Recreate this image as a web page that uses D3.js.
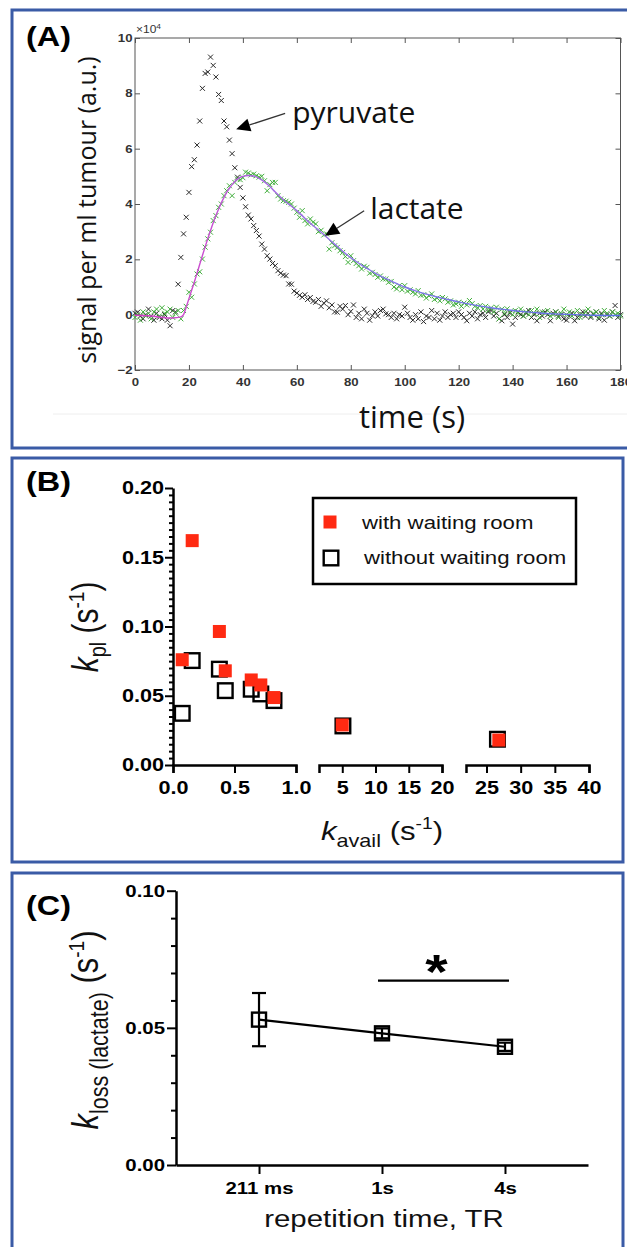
<!DOCTYPE html>
<html><head><meta charset="utf-8">
<script src="https://cdn.jsdelivr.net/npm/d3@7"></script>
<style>body{margin:0;background:#fff} svg{display:block}</style>
</head><body>
<svg id="c" width="627" height="1247"></svg>
<script>
// ---------------- DATA ----------------
// Panel A: sampling times (s) and signals (x10^4 a.u.)
const timeSec = d3.range(0, 181, 1);
const pyruvateSignal = [
 0.05,0.09,-0.05,-0.15,0.0,0.2,-0.05,-0.2,0.05,-0.1,
 -0.15,0.0,-0.2,-0.4,0.15,0.1,1.1,2.07,2.92,3.52,
 4.42,5.35,5.6,6.13,7.0,8.18,8.72,8.77,9.31,9.01,
 8.59,7.96,7.74,7.0,6.79,6.31,5.82,5.31,4.97,4.6,
 4.22,3.9,3.6,3.46,3.22,3.04,2.84,2.55,2.37,2.13,
 2.01,1.85,1.77,1.59,1.5,1.43,1.41,1.11,1.1,0.85,
 0.78,0.7,0.63,0.72,0.55,0.62,0.48,0.45,0.55,0.3,
 0.42,0.5,0.25,0.35,0.1,0.09,0.3,0.2,0.33,0.0,
 0.12,0.35,-0.1,0.05,-0.15,0.2,0.05,-0.2,-0.04,0.1,
 -0.05,0.15,0.2,0.03,0.0,-0.1,0.05,-0.15,0.0,-0.05,
 0.27,0.05,-0.1,-0.2,0.0,-0.15,0.1,-0.25,-0.05,-0.1,
 0.15,-0.15,0.05,-0.2,-0.05,0.1,-0.1,0.0,0.05,-0.1,
 0.1,0.0,-0.1,-0.22,0.05,-0.05,0.1,-0.15,0.0,0.05,
 -0.1,0.1,0.15,-0.05,0.05,-0.15,-0.22,0.0,-0.1,0.05,
 -0.34,-0.1,0.1,0.0,-0.05,0.05,0.15,-0.1,0.0,-0.22,
 0.05,-0.05,0.1,0.0,-0.22,0.05,0.1,-0.05,0.0,-0.15,
 -0.2,-0.05,0.05,-0.22,-0.1,0.0,0.1,-0.05,0.05,-0.1,
 0.0,0.1,-0.15,0.05,-0.2,0.0,-0.05,0.1,0.33,-0.1,0.0
];
const lactateSignal = [
 -0.1,0.0,-0.2,0.1,-0.05,0.05,-0.15,0.1,0.2,-0.05,
 0.25,0.05,0.1,0.2,-0.1,0.05,0.15,-0.15,0.15,0.3,
 0.81,0.63,1.11,1.47,1.55,2.01,2.44,2.74,2.98,3.4,
 3.58,3.88,4.0,4.3,4.48,4.66,4.3,4.78,4.9,4.88,
 4.95,5.15,5.12,5.05,5.08,5.02,4.97,5.0,4.84,4.48,
 4.7,4.78,4.78,4.3,4.18,4.12,4.1,4.06,4.0,3.85,
 3.7,3.52,3.76,3.4,3.28,3.46,3.34,3.28,3.0,3.05,
 2.88,2.92,2.37,2.6,2.49,2.43,2.31,2.25,2.1,1.89,
 2.13,1.95,1.85,1.77,1.65,1.75,1.71,1.5,1.53,1.45,
 1.35,1.4,1.29,1.29,1.17,1.2,1.0,0.93,1.05,0.9,
 1.05,0.85,0.9,0.81,0.75,0.87,0.7,0.72,0.6,0.68,
 0.75,0.55,0.6,0.5,0.62,0.57,0.45,0.5,0.35,0.39,
 0.45,0.3,0.42,0.35,0.51,0.4,0.3,0.25,0.33,0.2,
 0.3,0.15,0.25,0.1,0.27,-0.15,0.2,0.05,0.21,0.1,
 0.0,0.15,0.05,0.2,-0.05,0.1,0.0,0.15,0.05,0.2,
 -0.1,0.1,0.05,0.15,-0.05,0.0,0.1,-0.1,0.05,0.2,
 0.0,0.1,-0.05,0.05,0.15,-0.1,0.0,0.1,0.2,-0.05,
 0.05,0.1,-0.1,0.0,0.15,0.05,-0.05,0.1,0.0,0.05,-0.05
];
const fitTime = [0,6,10,14,17,18,19,20,21,22,23,24,25,26,27,28,29,30,31,32,33,34,35,36,37,38,39,40,42,44,46,48,50,52,54,56,58,60,62,64,66,68,70,72,74,76,78,80,82,84,86,88,90,92,94,96,98,100,104,108,112,116,120,124,128,132,136,140,145,150,155,160,170,180];
const fitLactate = [-0.02,-0.05,-0.1,-0.12,-0.08,0.0,0.28,0.58,0.88,1.18,1.5,1.82,2.14,2.45,2.75,3.04,3.32,3.58,3.82,4.04,4.24,4.42,4.57,4.7,4.81,4.9,4.96,5.0,5.03,5.01,4.93,4.8,4.63,4.43,4.24,4.07,3.92,3.76,3.58,3.39,3.22,3.06,2.9,2.72,2.55,2.38,2.21,2.06,1.92,1.79,1.67,1.56,1.45,1.35,1.26,1.17,1.08,1.0,0.86,0.74,0.64,0.55,0.46,0.38,0.31,0.25,0.2,0.15,0.1,0.06,0.03,0.01,-0.02,-0.03];
const timeTicks = [0,20,40,60,80,100,120,140,160,180];
const signalTicks = [-2,0,2,4,6,8,10];

// Panel B
const kavailWith    = [0.075,0.156,0.377,0.425,0.636,0.714,0.821,5.0,26.8];
const kplWith       = [0.076,0.162,0.0964,0.068,0.0614,0.0578,0.0487,0.0289,0.018];
const kavailWithout = [0.075,0.156,0.377,0.425,0.636,0.714,0.821,5.1,26.6];
const kplWithout    = [0.0373,0.0754,0.0692,0.0537,0.0547,0.0513,0.0465,0.0282,0.0186];
const kavailSegments = [[0,1],[1.5,20],[22,40]];
const kavailTicks = [[0,0.5,1.0],[5,10,15,20],[25,30,35,40]];
const kplTicks = [0,0.05,0.10,0.15,0.20];
const legendLabels = ["with waiting room","without waiting room"];

// Panel C
const trLabels = ["211 ms","1s","4s"];
const klossMean = [0.0530,0.0480,0.0431];
const klossErr  = [0.0097,0.0018,0.0015];
const klossTicks = [0,0.05,0.10];

// ---------------- DRAW ----------------
const svg = d3.select('#c');
const SX = 1.2;
const SANS = "'Liberation Sans', Arial, sans-serif";
const OPEN = "'Open Sans', sans-serif";
const BLUE = '#3a5ba6';

// panel frames
[[12,10,640,438],[12,458,611,404],[12,873,611,420]].forEach(r=>{
  svg.append('rect').attr('x',r[0]).attr('y',r[1]).attr('width',r[2]).attr('height',r[3])
    .attr('fill','none').attr('stroke',BLUE).attr('stroke-width',3);
});

function rich(parent, x, y, parts, opts){
  const g = parent.append('g').attr('transform', `translate(${x},${y}) ${opts.tf||''}`);
  const t = g.append('text').attr('text-anchor', opts.anchor||'middle')
    .attr('font-family', opts.family||SANS).attr('fill', opts.fill||'#000')
    .attr('font-weight', opts.weight||'normal');
  let prev = 0;
  parts.forEach(p=>{
    const s = p.shift||0;
    t.append('tspan').text(p.t).attr('font-size', p.size)
      .attr('font-style', p.italic?'italic':'normal').attr('dy', s-prev);
    prev = s;
  });
  return t;
}

// ===== Panel A =====
const xA = d3.scaleLinear().domain([0,180]).range([135,620.5]);
const yA = d3.scaleLinear().domain([-2,10]).range([370,38]);
const gA = svg.append('g');

gA.append('line').attr('x1',53).attr('x2',627).attr('y1',414).attr('y2',414)
  .attr('stroke','#eeeeee').attr('stroke-width',1);

function styleA(g){
  g.select('.domain').remove();
  g.selectAll('line').attr('stroke','#555').attr('stroke-width',1);
  g.selectAll('text').attr('font-family',SANS).attr('font-size',11).attr('font-weight','bold')
    .attr('fill','#333').attr('transform',`scale(${SX},1)`);
}
gA.append('g').attr('transform','translate(0,370)')
  .call(d3.axisBottom(xA).tickValues(timeTicks).tickSize(-5).tickPadding(8)).call(styleA);
gA.append('g').attr('transform','translate(0,38)')
  .call(d3.axisTop(xA).tickValues(timeTicks).tickSize(-5).tickFormat('')).call(styleA);
gA.append('g').attr('transform','translate(135,0)')
  .call(d3.axisLeft(yA).tickValues(signalTicks).tickSize(-5).tickPadding(3)).call(styleA)
  .selectAll('text').attr('x', -2.5/SX);
gA.append('g').attr('transform','translate(620.5,0)')
  .call(d3.axisRight(yA).tickValues(signalTicks).tickSize(-5).tickFormat('')).call(styleA);
gA.append('rect').attr('x',xA(0)).attr('y',yA(10)).attr('width',xA(180)-xA(0)).attr('height',yA(-2)-yA(10))
  .attr('fill','none').attr('stroke','#555').attr('stroke-width',1);

// x10^4
rich(gA, xA(0)+1, yA(10)-5, [{t:'×10',size:10},{t:'4',size:7,shift:-4}], {anchor:'start', fill:'#333', tf:`scale(${SX},1)`});

const xm = (x,y,s)=>`M${x-s},${y-s}L${x+s},${y+s}M${x-s},${y+s}L${x+s},${y-s}`;
gA.append('g').selectAll('path').data(pyruvateSignal).join('path')
  .attr('d',(d,i)=>xm(xA(timeSec[i]),yA(d),2.5)).attr('stroke','#2a2a2a').attr('stroke-width',1).attr('fill','none');
gA.append('g').selectAll('path').data(lactateSignal).join('path')
  .attr('d',(d,i)=>xm(xA(timeSec[i]),yA(d),2.5)).attr('stroke','#3fae3a').attr('stroke-width',1).attr('fill','none');

const defs = svg.append('defs');
const grad = defs.append('linearGradient').attr('id','fitg').attr('gradientUnits','userSpaceOnUse')
  .attr('x1',xA(0)).attr('x2',xA(180)).attr('y1',0).attr('y2',0);
[[0,'#d63cc8'],[0.15,'#c84fd0'],[0.25,'#a868e0'],[0.5,'#8a78ec'],[1,'#5a70e8']].forEach(s=>
  grad.append('stop').attr('offset',s[0]).attr('stop-color',s[1]));
gA.append('path').datum(fitTime.map((t,i)=>[t,fitLactate[i]]))
  .attr('d', d3.line().x(d=>xA(d[0])).y(d=>yA(d[1])).curve(d3.curveMonotoneX))
  .attr('fill','none').attr('stroke','url(#fitg)').attr('stroke-width',1.4);

function arrow(g, tipX, tipY, dx, dy){
  const L = Math.hypot(dx,dy), ux = dx/L, uy = dy/L;
  const hl = 14, hw = 6.5;
  const bx = tipX+ux*hl, by = tipY+uy*hl;
  g.append('line').attr('x1',tipX+dx).attr('y1',tipY+dy).attr('x2',bx).attr('y2',by)
    .attr('stroke','#333').attr('stroke-width',1.3);
  g.append('path').attr('d',`M${tipX},${tipY}L${bx-uy*hw},${by+ux*hw}L${bx+uy*hw},${by-ux*hw}Z`).attr('fill','#000');
}
const pyTip = [xA(37.5), yA(6.7)];
arrow(gA, pyTip[0], pyTip[1], 49, -16);
gA.append('text').attr('x',pyTip[0]+56).attr('y',pyTip[1]-6).text('pyruvate')
  .attr('font-family',OPEN).attr('font-size',30).attr('fill','#111');
const laTip = [xA(70.5), yA(2.85)];
arrow(gA, laTip[0], laTip[1], 39, -25);
gA.append('text').attr('x',laTip[0]+45).attr('y',laTip[1]-17).text('lactate')
  .attr('font-family',OPEN).attr('font-size',30).attr('fill','#111');

gA.append('text').attr('x',412).attr('y',428).attr('text-anchor','middle').text('time (s)')
  .attr('font-family',OPEN).attr('font-size',31).attr('fill','#111');
gA.append('text').attr('transform',`translate(96,${(yA(10)+yA(-2))/2+6}) rotate(-90)`).attr('text-anchor','middle')
  .text('signal per ml tumour (a.u.)').attr('font-family',OPEN).attr('font-size',25).attr('fill','#111');

function panelLabel(txt, y){
  svg.append('text').attr('transform',`translate(26,${y}) scale(${SX},1)`).text(txt)
    .attr('font-family',SANS).attr('font-weight','bold').attr('font-size',27).attr('fill','#000');
}
panelLabel('(A)',46); panelLabel('(B)',491); panelLabel('(C)',915);

// ===== Panel B =====
const gB = svg.append('g');
const yB = d3.scaleLinear().domain([0,0.2]).range([765,488]);
const segRanges = [[173,296],[319,442],[466,589]];
const segScales = kavailSegments.map((d,i)=>d3.scaleLinear().domain(d).range(segRanges[i]));
function xB(v){
  for(let i=0;i<kavailSegments.length;i++){
    const [a,b] = kavailSegments[i];
    if(v<=b || i===kavailSegments.length-1) return segScales[i](v);
  }
}
function styleBC(g, size){
  g.selectAll('line').attr('stroke','#000').attr('stroke-width',2);
  g.select('.domain').attr('stroke','#000').attr('stroke-width',2.5);
  g.selectAll('text').attr('font-family',SANS).attr('font-size',size).attr('font-weight','bold')
    .attr('fill','#000').attr('transform',`scale(${SX},1)`);
}
const minorB = d3.range(0,0.2001,0.005).filter(v=>Math.abs(v/0.05-Math.round(v/0.05))>1e-6);
gB.append('g').attr('transform','translate(173,0)')
  .call(d3.axisLeft(yB).tickValues(minorB).tickSize(4).tickFormat('')).call(g=>{g.select('.domain').remove();g.selectAll('line').attr('stroke','#000').attr('stroke-width',2);});
gB.append('g').attr('transform','translate(173,0)')
  .call(d3.axisLeft(yB).tickValues(kplTicks).tickSize(8).tickSizeOuter(0).tickFormat(d3.format('.2f')))
  .call(g=>styleBC(g,18)).selectAll('text').attr('x',-9/SX);
segScales.forEach((s,i)=>{
  gB.append('g').attr('transform','translate(0,765)')
    .call(d3.axisBottom(s).tickValues(kavailTicks[i]).tickSizeInner(8).tickSizeOuter(8).tickPadding(8)
      .tickFormat(i===0?d3.format('.1f'):d3.format('d')))
    .call(g=>styleBC(g,18));
});
// squares
gB.append('g').selectAll('rect').data(kplWithout).join('rect')
  .attr('x',(d,i)=>xB(kavailWithout[i])-7.3).attr('y',d=>yB(d)-7.3).attr('width',14.6).attr('height',14.6)
  .attr('fill','none').attr('stroke','#000').attr('stroke-width',2.4);
gB.append('g').selectAll('rect').data(kplWith).join('rect')
  .attr('x',(d,i)=>xB(kavailWith[i])-6.5).attr('y',d=>yB(d)-6.5).attr('width',13).attr('height',13)
  .attr('fill','#ff2a12');
// legend
gB.append('rect').attr('x',313).attr('y',498).attr('width',263).attr('height',86)
  .attr('fill','none').attr('stroke','#000').attr('stroke-width',2.5);
gB.append('rect').attr('x',330-6.5).attr('y',522-6.5).attr('width',13).attr('height',13).attr('fill','#ff2a12');
gB.append('rect').attr('x',331-7.3).attr('y',558-7.3).attr('width',14.6).attr('height',14.6)
  .attr('fill','none').attr('stroke','#000').attr('stroke-width',2.4);
[[362,523],[364,558]].forEach((p,i)=>{
  gB.append('text').attr('transform',`translate(${p[0]},${p[1]}) scale(${SX},1)`).attr('dy','0.35em')
    .text(legendLabels[i]).attr('font-family',SANS).attr('font-size',18.5).attr('fill','#111');
});
rich(gB, 98, 627, [{t:'k',size:30,italic:true},{t:'pl',size:20,shift:7},{t:' (s',size:30},{t:'-1',size:19,shift:-12},{t:')',size:30}],
  {tf:`scale(${SX},1) rotate(-90)`, fill:'#111'});
rich(gB, 382, 840, [{t:'k',size:26,italic:true},{t:'avail',size:18,shift:7},{t:' (s',size:26},{t:'-1',size:16,shift:-11},{t:')',size:26}],
  {tf:`scale(${SX},1)`, fill:'#111'});

// ===== Panel C =====
const gC = svg.append('g');
const xC = d3.scalePoint().domain(trLabels).range([176,588]).padding(0.675);
const yC = d3.scaleLinear().domain([0,0.1]).range([1165,890.7]);
const minorC = d3.range(0,0.1001,0.01).filter(v=>Math.abs(v/0.05-Math.round(v/0.05))>1e-6);
gC.append('g').attr('transform','translate(176,0)')
  .call(d3.axisLeft(yC).tickValues(minorC).tickSize(5).tickFormat('')).call(g=>{g.select('.domain').remove();g.selectAll('line').attr('stroke','#000').attr('stroke-width',2);});
gC.append('g').attr('transform','translate(176,0)')
  .call(d3.axisLeft(yC).tickValues(klossTicks).tickSize(9).tickSizeOuter(0).tickFormat(d3.format('.2f')))
  .call(g=>styleBC(g,17)).selectAll('text').attr('x',-11/SX);
gC.append('g').attr('transform','translate(0,1165)')
  .call(d3.axisBottom(xC).tickSizeInner(9).tickSizeOuter(0).tickPadding(8))
  .call(g=>styleBC(g,17));

gC.append('path').datum(trLabels.map((c,i)=>[c,klossMean[i]]))
  .attr('d', d3.line().x(d=>xC(d[0])).y(d=>yC(d[1])))
  .attr('fill','none').attr('stroke','#000').attr('stroke-width',2.2);
const eb = gC.append('g').attr('stroke','#000').attr('stroke-width',2.2);
trLabels.forEach((c,i)=>{
  const x = xC(c), y1 = yC(klossMean[i]+klossErr[i]), y2 = yC(klossMean[i]-klossErr[i]);
  eb.append('line').attr('x1',x).attr('x2',x).attr('y1',y1).attr('y2',y2);
  eb.append('line').attr('x1',x-7).attr('x2',x+7).attr('y1',y1).attr('y2',y1);
  eb.append('line').attr('x1',x-7).attr('x2',x+7).attr('y1',y2).attr('y2',y2);
});
gC.append('g').selectAll('rect').data(klossMean).join('rect')
  .attr('x',(d,i)=>xC(trLabels[i])-7).attr('y',d=>yC(d)-7).attr('width',14).attr('height',14)
  .attr('fill','none').attr('stroke','#000').attr('stroke-width',2.4);
// significance
const sigY = yC(0.0672);
gC.append('line').attr('x1',xC('1s')-4).attr('x2',xC('4s')+4).attr('y1',sigY).attr('y2',sigY)
  .attr('stroke','#000').attr('stroke-width',2.2);
gC.append('text').attr('transform',`translate(${(xC('1s')+xC('4s'))/2-7},${sigY+7}) scale(${SX},1)`)
  .attr('text-anchor','middle').text('*').attr('font-family',SANS).attr('font-weight','bold').attr('font-size',48);

rich(gC, 98, 1030, [{t:'k',size:31,italic:true},{t:'loss (lactate)',size:21.5,shift:8},{t:' (s',size:31},{t:'-1',size:19,shift:-12},{t:')',size:31}],
  {tf:`scale(${SX},1) rotate(-90)`, fill:'#111'});
gC.append('text').attr('transform',`translate(384,1227) scale(${SX},1)`).attr('text-anchor','middle')
  .text('repetition time, TR').attr('font-family',SANS).attr('font-size',24.5).attr('fill','#111');
</script>
</body></html>
